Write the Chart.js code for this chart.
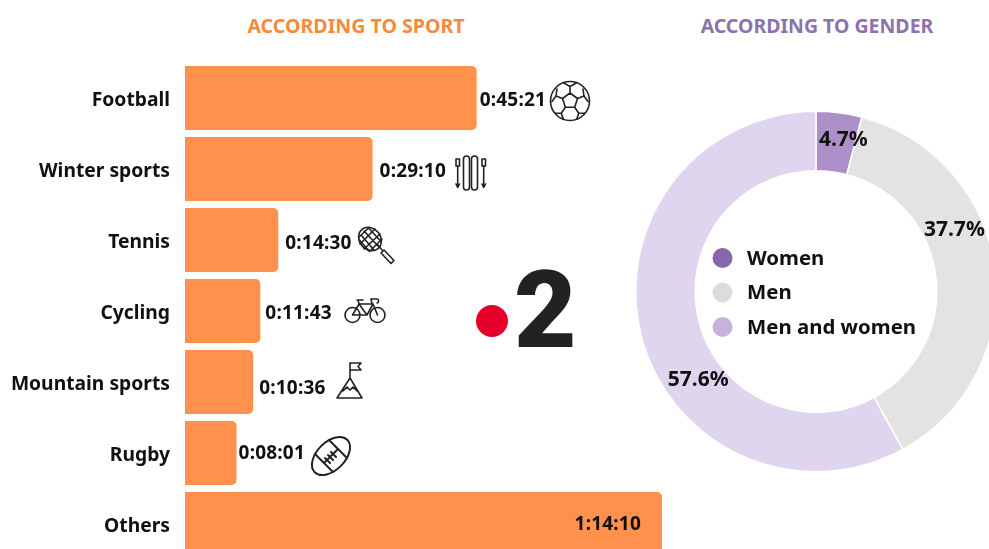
<!DOCTYPE html>
<html><head><meta charset="utf-8">
<script src="https://cdn.jsdelivr.net/npm/chart.js@4"></script>
<style>
html,body{margin:0;padding:0;background:#fff;width:989px;height:549px;overflow:hidden}
#wrap{position:relative;width:989px;height:549px;overflow:hidden;font-family:"Noto Sans",sans-serif}
canvas{position:absolute}
.t{position:absolute;font-weight:700;white-space:nowrap;transform:translateX(-50%)}
svg.i{position:absolute;overflow:visible;fill:none;stroke:#222;stroke-width:1.6;stroke-linecap:round;stroke-linejoin:round}
#two{position:absolute;left:514px;top:256px;font:900 108px/1 Roboto,sans-serif;color:#222;letter-spacing:0}
#dot{position:absolute;left:476px;top:305px;width:32px;height:32px;border-radius:50%;background:#e4002b}
</style></head><body>
<div id="wrap">
<div class="t" style="left:356px;top:12px;font-size:19.6px;color:#f68a3c">ACCORDING TO SPORT</div>
<div class="t" style="left:817px;top:12px;font-size:19.5px;color:#8e72ab">ACCORDING TO GENDER</div>
<canvas id="bars" width="680" height="586" style="left:0;top:0"></canvas>
<canvas id="donut" width="380" height="381" style="left:626px;top:101px"></canvas>
<div id="dot"></div><div id="two">2</div>

<svg class="i" style="left:549px;top:80px" width="42" height="42" viewBox="0 0 42 42">
<circle cx="21" cy="21" r="19.5"/>
<path d="M21 13l7.5 5.5-2.8 8.8h-9.4l-2.8-8.8zM21 13V6.5l-7-4M21 6.5l7-4M28.5 18.5l6.5-2.5 4 5.5M35 16l-1-7M13.500 18.500L7 16l-4 5.500M7 16l1-7M25.700 27.300l4 6-2 6M16.300 27.300l-4 6 2 6M12.300 33.300H6M29.700 33.300H36"/>
</svg>
<svg class="i" style="left:455px;top:155px" width="32" height="36" viewBox="0 0 32 36">
<rect x="8.500" y="1" width="6" height="34" rx="3"/><rect x="16.500" y="1" width="6" height="34" rx="3"/>
<rect x="1" y="4" width="3.500" height="7"/><path d="M2.700 11V32M1 29l1.700 3.500L4.500 29"/>
<rect x="27" y="4" width="3.500" height="7"/><path d="M28.700 11V32M27 29l1.700 3.500 1.800-3.500"/>
</svg>
<svg class="i" style="left:356px;top:226px" width="40" height="40" viewBox="0 0 40 40">
<ellipse cx="14" cy="13" rx="10.500" ry="12.500" transform="rotate(-40 14 13)"/>
<path d="M5 9l13 15M8 5l15 16M13 2.500l12 13M3.500 14l10 11.500M19 3l-15 15M24 8L8 23M26 13L14 25M13 1.500L3 11M22 19l4 5M25 27l3-3 10 10.500-3 3z"/>
</svg>
<svg class="i" style="left:344px;top:297px" width="42" height="27" viewBox="0 0 42 27">
<circle cx="8.500" cy="18" r="7.500"/><circle cx="33.500" cy="18" r="7.500"/>
<path d="M8.500 18L15 7h14l4.500 11M15 7l8 11H8.500M29 7l-6 11M13 3h6M15 7l-1-4M28 7l-1-5h6c2 0 2 4 0 4"/>
</svg>
<svg class="i" style="left:335px;top:361px" width="29" height="39" viewBox="0 0 29 39">
<path d="M15 17V2h11l-3 3.500 3 3.500H15M15 17L2 37h25zM8 30l4-4 3 3 3-3 4 4"/>
</svg>
<svg class="i" style="left:310px;top:436px;stroke-width:2" width="42" height="40" viewBox="0 0 42 40">
<ellipse cx="21" cy="20" rx="23" ry="14" transform="rotate(-45 21 20)"/>
<path d="M19 4l18 18M5 18l18 18M14 27l14-14M15 22l5 5M18 19l5 5M21 16l5 5"/>
</svg>
</div>
<script>
// ---- data ----
const sports = ["Football","Winter sports","Tennis","Cycling","Mountain sports","Rugby","Others"];
const seconds = [2721,1750,870,703,636,481,4450];
const timeLabels = ["0:45:21","0:29:10","0:14:30","0:11:43","0:10:36","0:08:01","1:14:10"];
const genders = ["Women","Men","Men and women"];
const drawnShares = [4.1,37.9,58.0];
const shareLabels = ["4.7%","37.7%","57.6%"];
// ---- styling ----
const FONT = '"Noto Sans",sans-serif';
const sliceColors = ["#ad90c9","#e3e3e3","#e0d5ee"];
const legendColors = ["#8767a8","#dcdcdc","#c5b3de"];
const labelNudges = [[3,3],[7,3],[7,4],[5,3],[6,7],[2,1],[-21,1]];
const shareNudges = [[8,-2],[-11,-43],[28,51]];
const TICK_SHIFT = 2.5;

Chart.defaults.animation = false;
Chart.defaults.font.family = FONT;

const barLabels = {
  id:'barLabels',
  afterDatasetsDraw(c){
    const x=c.ctx, els=c.getDatasetMeta(0).data;
    x.save(); x.font='700 19px '+FONT; x.letterSpacing='0.2px'; x.fillStyle='#111'; x.textBaseline='middle';
    els.forEach((e,i)=>{
      const n=labelNudges[i], inside=seconds[i]===Math.max(...seconds);
      x.textAlign=inside?'right':'left';
      x.fillText(timeLabels[i],e.x+n[0],e.y+n[1]);
    });
    x.restore();
  }
};
new Chart(document.getElementById('bars'),{
  type:'bar',
  data:{labels:sports,datasets:[{data:seconds,backgroundColor:'#ff914d',
    barPercentage:0.9,categoryPercentage:1,
    borderRadius:{topRight:5,bottomRight:5,topLeft:0,bottomLeft:0},borderSkipped:false}]},
  options:{indexAxis:'y',responsive:false,devicePixelRatio:1,
    layout:{padding:{top:62.5,bottom:10.5,right:18,left:0}},
    plugins:{legend:{display:false},tooltip:{enabled:false}},
    scales:{
      x:{display:false,min:0,max:4450},
      y:{grid:{display:false,drawTicks:false},border:{display:false},
        afterFit(s){
          s.width=185;
          if(!s._shifted){
            s._shifted=true;
            const draw=s.drawLabels;
            s.drawLabels=function(a){const x=this.ctx;x.save();x.translate(0,TICK_SHIFT);draw.call(this,a);x.restore();};
          }
        },
        ticks:{autoSkip:false,padding:15,color:'#111',font:{size:19.3,weight:'700',family:FONT}}}
    }},
  plugins:[barLabels]
});

const donutText = {
  id:'donutText',
  afterDatasetsDraw(c){
    const x=c.ctx, els=c.getDatasetMeta(0).data;
    x.save(); x.fillStyle='#111'; x.textBaseline='middle'; x.textAlign='center';
    x.font='700 21px '+FONT;
    els.forEach((e,i)=>{
      const p=e.getCenterPoint(), n=shareNudges[i];
      x.fillText(shareLabels[i],p.x+n[0],p.y+n[1]);
    });
    const cx=els[0].x, cy=els[0].y;
    x.font='700 20.4px '+FONT; x.textAlign='left';
    genders.forEach((g,i)=>{
      const y=cy-33.5+i*34.500;
      x.beginPath(); x.arc(cx-93.500,y,10,0,Math.PI*2); x.fillStyle=legendColors[i]; x.fill();
      x.fillStyle='#111'; x.fillText(g,cx-69,y+1);
    });
    x.restore();
  }
};
new Chart(document.getElementById('donut'),{
  type:'doughnut',
  data:{labels:genders,datasets:[{data:drawnShares,backgroundColor:sliceColors,borderColor:'#fff',borderWidth:1.500}]},
  options:{responsive:false,devicePixelRatio:1,cutout:'67%',rotation:0,
    layout:{padding:9},
    plugins:{legend:{display:false},tooltip:{enabled:false}}},
  plugins:[donutText]
});
</script>
</body></html>
